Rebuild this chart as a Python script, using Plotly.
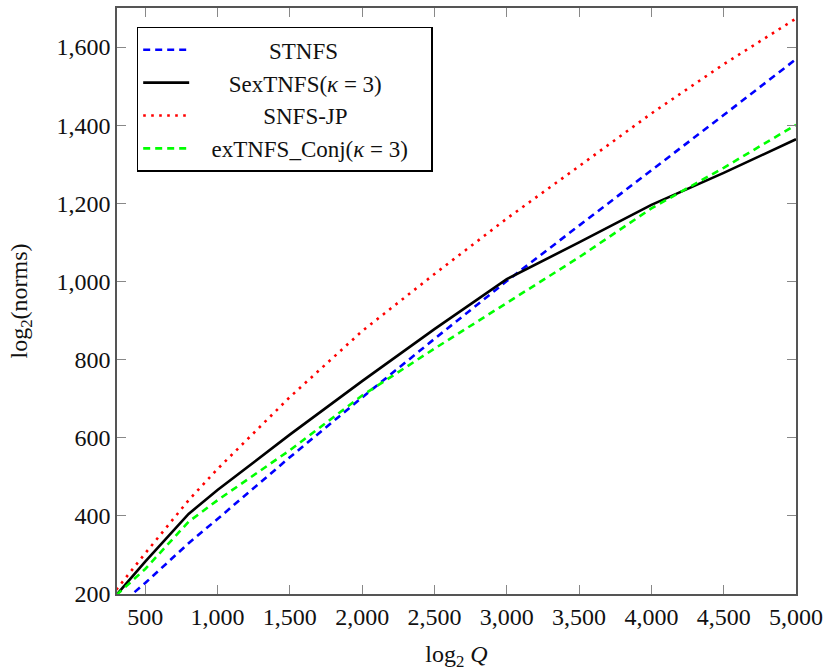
import plotly.graph_objects as go

# x positions (log2 Q)
x_vals = [300, 500, 800, 1000, 1500, 2000, 2500, 3000, 3500, 4000, 4500, 5000]

stnfs = [165, 228, 330, 392, 550, 703, 853, 1001, 1143, 1284, 1426, 1569]
sextnfs = [197, 283, 405, 466, 608, 745, 878, 1006, 1100, 1196, 1278, 1364]
snfs_jp = [211, 304, 440, 520, 704, 873, 1019, 1161, 1295, 1430, 1556, 1673]
extnfs_conj = [197, 264, 385, 440, 568, 708, 828, 946, 1062, 1187, 1291, 1401]

x_ticks = [500, 1000, 1500, 2000, 2500, 3000, 3500, 4000, 4500, 5000]
y_ticks = [200, 400, 600, 800, 1000, 1200, 1400, 1600]

FONT = "Liberation Serif"
NB = "\u00a0"

fig = go.Figure()
fig.add_trace(go.Scatter(x=x_vals, y=stnfs, mode="lines",
                         name=NB * 13 + "STNFS",
                         line=dict(color="#0000FF", width=2.6, dash="7px,5px")))
fig.add_trace(go.Scatter(x=x_vals, y=sextnfs, mode="lines",
                         name=NB * 6 + "SexTNFS(<i>κ</i> = 3)",
                         line=dict(color="#000000", width=2.6)))
fig.add_trace(go.Scatter(x=x_vals, y=snfs_jp, mode="lines",
                         name=NB * 12 + "SNFS-JP",
                         line=dict(color="#FF0000", width=2.6, dash="2.6px,5.4px")))
fig.add_trace(go.Scatter(x=x_vals, y=extnfs_conj, mode="lines",
                         name=NB * 3 + "exTNFS_Conj(<i>κ</i> = 3)" + NB * 3,
                         line=dict(color="#00FF00", width=2.6, dash="7px,5px")))

axis_common = dict(
    showgrid=False, zeroline=False, showline=True, linecolor="#555555", linewidth=1.5,
    mirror="allticks", ticks="inside", ticklen=9, tickcolor="#888888", tickwidth=1,
    tickfont=dict(family=FONT, size=24, color="#111111"),
)

fig.update_xaxes(range=[305, 5000], tickvals=x_ticks, tickformat=",d",
                 title=dict(text="log<sub>2</sub> <i>Q</i>", font=dict(family=FONT, size=24, color="#111111"),
                            standoff=18),
                 **axis_common)
fig.update_yaxes(range=[200, 1700], tickvals=y_ticks, tickformat=",d",
                 title=dict(text="log<sub>2</sub>(norms)", font=dict(family=FONT, size=24, color="#111111"),
                            standoff=22),
                 **axis_common)

fig.update_layout(
    width=829, height=671,
    margin=dict(l=117, r=32, t=6, b=77),
    paper_bgcolor="white", plot_bgcolor="white",
    font=dict(family=FONT, size=23, color="#111111"),
    legend=dict(x=0.029, y=0.968, xanchor="left", yanchor="top",
                bordercolor="#000000", borderwidth=1.5, bgcolor="white",
                font=dict(family=FONT, size=23, color="#111111"),
                itemwidth=46, tracegroupgap=0),
    showlegend=True,
)

fig.write_html("out.html", config={"displayModeBar": False},
               post_script="document.body.style.margin='0';")
